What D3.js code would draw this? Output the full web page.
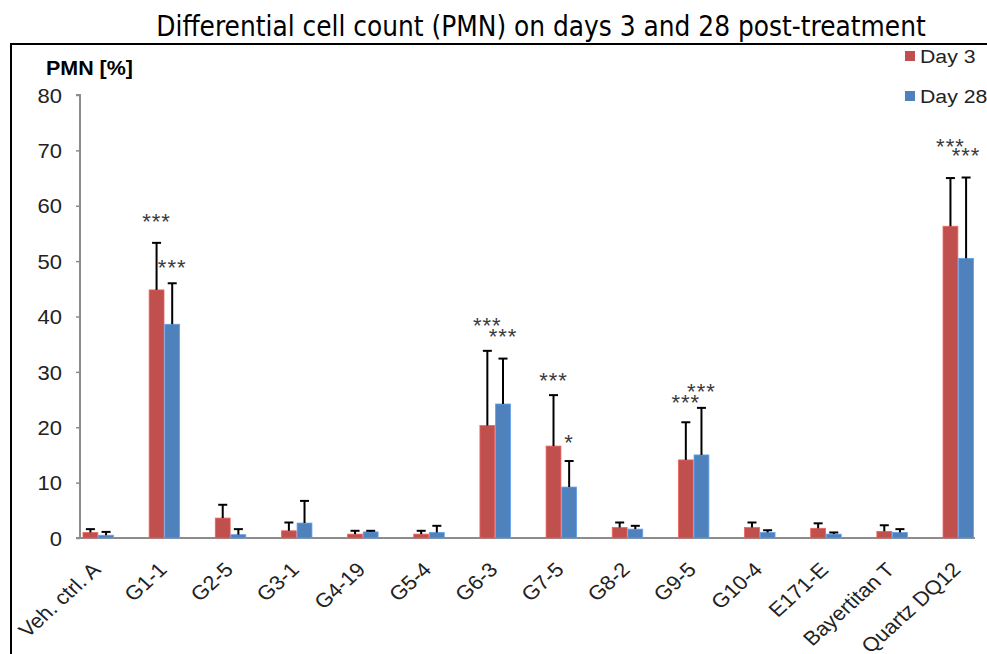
<!DOCTYPE html>
<html>
<head>
<meta charset="utf-8">
<script src="https://cdn.jsdelivr.net/npm/d3@7"></script>
<style>
  html, body { margin: 0; padding: 0; background: #fff; }
  svg { display: block; }
</style>
</head>
<body>
<svg id="chart" width="987" height="654"></svg>
<script>
const categories = ["Veh. ctrl. A", "G1-1", "G2-5", "G3-1", "G4-19", "G5-4", "G6-3", "G7-5", "G8-2", "G9-5", "G10-4", "E171-E", "Bayertitan T", "Quartz DQ12"];
const seriesNames = ["Day 3", "Day 28"];
const day3 = [1.0, 44.8, 3.6, 1.3, 0.7, 0.7, 20.3, 16.6, 1.9, 14.1, 1.9, 1.75, 1.2, 56.3];
const day3Err = [0.6, 8.5, 2.4, 1.5, 0.6, 0.6, 13.5, 9.2, 0.9, 6.8, 0.9, 0.9, 1.1, 8.7];
const day28 = [0.5, 38.6, 0.6, 2.7, 1.1, 1.0, 24.2, 9.2, 1.6, 15.0, 1.0, 0.7, 1.0, 50.5];
const day28Err = [0.6, 7.4, 1.0, 4.0, 0.2, 1.2, 8.2, 4.7, 0.6, 8.5, 0.4, 0.3, 0.6, 14.6];
const day3Sig = ["", "***", "", "", "", "", "***", "***", "", "***", "", "", "", "***"];
const day3SigAt = [null, 58.0, null, null, null, null, 39.2, 29.3, null, 25.3, null, null, null, 71.5];
const day28Sig = ["", "***", "", "", "", "", "***", "*", "", "***", "", "", "", "***"];
const day28SigAt = [null, 49.7, null, null, null, null, 37.2, 18.1, null, 27.3, null, null, null, 69.9];
const yTicks = [0, 10, 20, 30, 40, 50, 60, 70, 80];
const title = "Differential cell count (PMN) on days 3 and 28 post-treatment";
const yLabel = "PMN [%]";

const colors = ["#C0504D", "#4F81BD"];
const SX = 1.1; // horizontal stretch of the reference raster
const FONT = "Liberation Sans, Arial, sans-serif";
const svg = d3.select("#chart");

// frame
svg.append("path").attr("d", "M11,660 L11,44 L995,44").attr("fill", "none").attr("stroke", "#000").attr("stroke-width", 2);

// title
svg.append("text").attr("transform", "translate(541,36) scale(0.89,1)").attr("text-anchor", "middle")
  .attr("font-family", "DejaVu Sans").attr("font-size", 28).attr("fill", "#000").text(title);

const y = d3.scaleLinear().domain([0, 80]).range([538, 95]);
const x = d3.scaleBand().domain(categories).range([64.9, 991.1]).paddingInner(0).paddingOuter(0);
const xs = d3.scaleBand().domain(seriesNames).range([-15, 15.5]).paddingInner(0.05);

// y axis
const yAxis = svg.append("g").attr("transform", "translate(80,0)")
  .call(d3.axisLeft(y).tickValues(yTicks).tickSize(4).tickFormat(d3.format("d")));
yAxis.select(".domain").attr("stroke", "#8c8c8c").attr("stroke-width", 2).attr("d", "M-4,95H0V538");
yAxis.selectAll(".tick line").attr("stroke", "#8c8c8c").attr("stroke-width", 1.5);
yAxis.selectAll(".tick text").attr("x", 0).attr("dy", "0.36em")
  .attr("transform", `translate(-18,0) scale(${SX},1)`)
  .attr("font-family", FONT).attr("font-size", 20).attr("fill", "#222");

// y label
svg.append("text").attr("transform", `translate(46,75) scale(${SX},1)`).attr("font-family", FONT)
  .attr("font-weight", "bold").attr("font-size", 19.5).attr("fill", "#000").text(yLabel);

// x axis baseline
svg.append("line").attr("x1", 76).attr("x2", 975).attr("y1", y(0)).attr("y2", y(0))
  .attr("stroke", "#8c8c8c").attr("stroke-width", 2);

const series = [
  {name: seriesNames[0], vals: day3, err: day3Err, sig: day3Sig, sigAt: day3SigAt, color: colors[0]},
  {name: seriesNames[1], vals: day28, err: day28Err, sig: day28Sig, sigAt: day28SigAt, color: colors[1]}
];

series.forEach(s => {
  const g = svg.append("g");
  categories.forEach((c, i) => {
    const cx = x(c) + x.bandwidth() / 2;
    const bx = cx + xs(s.name);
    const bw = xs.bandwidth();
    g.append("rect").attr("x", bx).attr("y", y(s.vals[i])).attr("width", bw)
      .attr("height", y(0) - y(s.vals[i])).attr("fill", s.color)
      .attr("stroke", d3.color(s.color).brighter(0.6)).attr("stroke-width", 0.8);
    const mx = bx + bw / 2;
    const top = y(s.vals[i] + s.err[i]);
    g.append("line").attr("x1", mx).attr("x2", mx).attr("y1", y(s.vals[i])).attr("y2", top)
      .attr("stroke", "#000").attr("stroke-width", 2);
    g.append("line").attr("x1", mx - 4.5).attr("x2", mx + 4.5).attr("y1", top).attr("y2", top)
      .attr("stroke", "#000").attr("stroke-width", 2);
    if (s.sig[i]) {
      g.append("text").attr("x", mx).attr("y", y(s.sigAt[i]) + 12).attr("text-anchor", "middle")
        .attr("font-family", FONT).attr("font-size", 22).attr("letter-spacing", 1)
        .attr("fill", "#3a3a3a").text(s.sig[i]);
    }
  });
});

// x labels
categories.forEach(c => {
  const cx = x(c) + x.bandwidth() / 2;
  svg.append("text").attr("transform", `translate(${cx + 4},571) scale(${SX},1) rotate(-45)`)
    .attr("text-anchor", "end").attr("font-family", FONT).attr("font-size", 20)
    .attr("fill", "#222").text(c);
});

// legend
series.forEach((s, i) => {
  const ly = 63 + i * 40;
  svg.append("rect").attr("x", 905).attr("y", ly - 12).attr("width", 10).attr("height", 10).attr("fill", s.color);
  svg.append("text").attr("transform", `translate(920,${ly}) scale(1.12,1)`).attr("font-family", FONT)
    .attr("font-size", 19).attr("fill", "#222").text(s.name);
});
</script>
</body>
</html>
